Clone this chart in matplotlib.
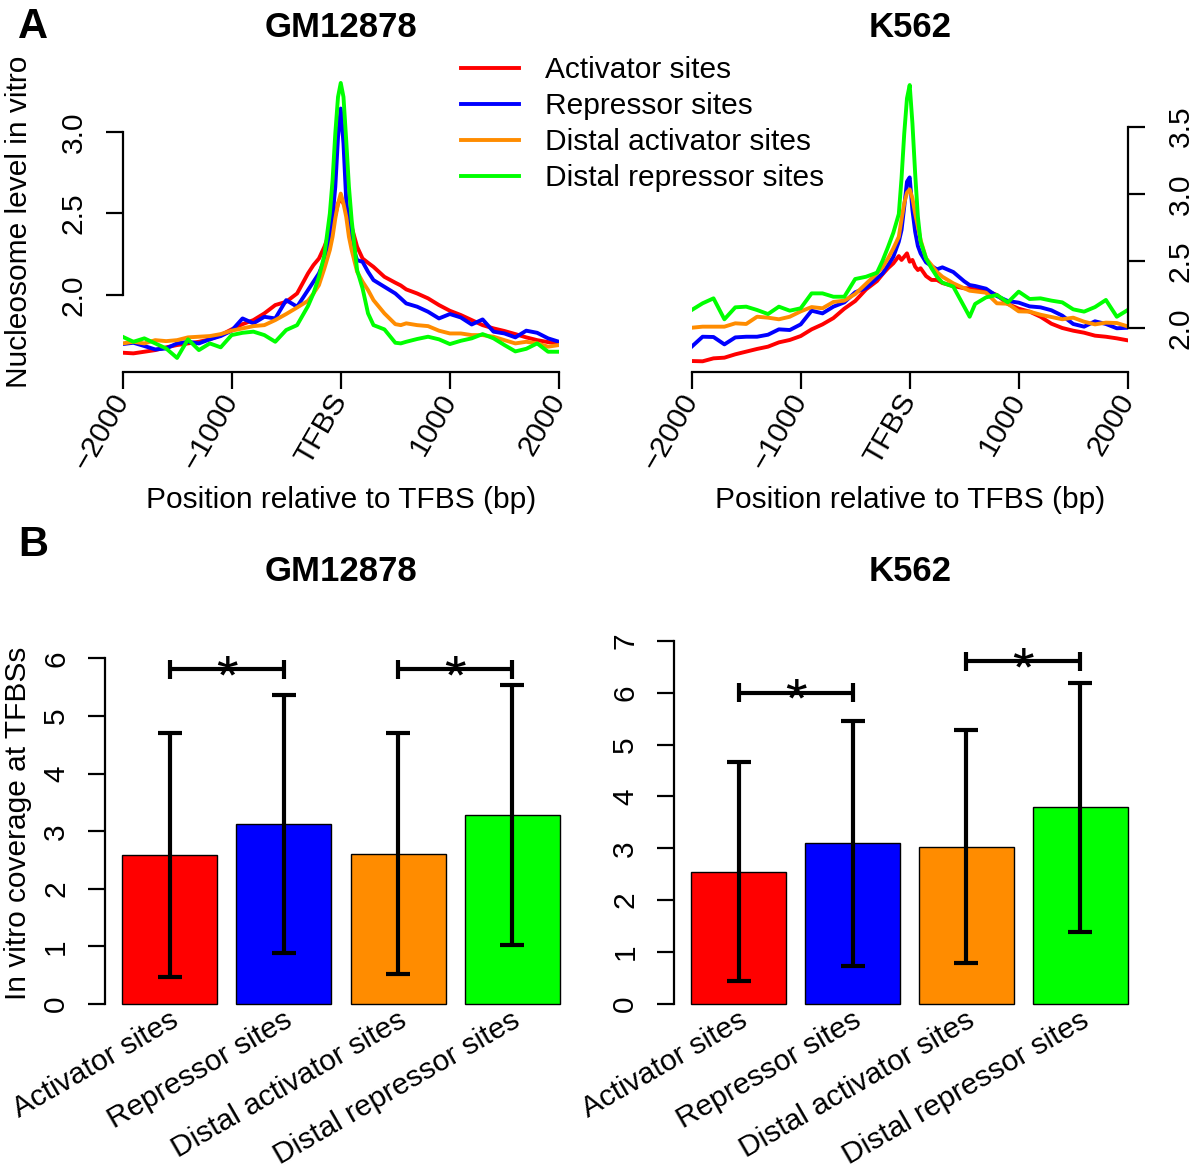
import matplotlib
matplotlib.use('Agg')
import matplotlib.pyplot as plt
from matplotlib.lines import Line2D
from matplotlib.transforms import ScaledTranslation

plt.rcParams['font.family'] = ['Liberation Sans', 'DejaVu Sans']

W, H = 1200, 1168
FS = 21.5

# position relative to TFBS (bp)
pos = [-2000, -1900, -1800, -1700, -1600, -1500, -1400, -1300, -1200, -1100,
       -1000, -900, -800, -700, -600, -500, -400, -300,
       -250, -200, -150, -100, -75, -50, -25, 0, 25, 50, 75, 100, 150, 200, 250,
       300, 400, 500, 550, 600, 700, 800, 900, 1000, 1100, 1200, 1300, 1400,
       1500, 1600, 1700, 1800, 1900, 2000]

# GM12878 in vitro nucleosome level
gm_act = [1.647, 1.643, 1.653, 1.663, 1.680, 1.694, 1.704, 1.714, 1.729, 1.755,
          1.790, 1.822, 1.847, 1.888, 1.939, 1.959, 2.010, 2.133,
          2.184, 2.224, 2.296, 2.388, 2.429, 2.490, 2.561, 2.592, 2.561, 2.531, 2.469, 2.418, 2.296, 2.224, 2.198,
          2.173, 2.112, 2.076, 2.059, 2.035, 2.010, 1.980, 1.939, 1.904, 1.878, 1.847, 1.816, 1.796,
          1.780, 1.761, 1.741, 1.724, 1.712, 1.704]
gm_rep = [1.700, 1.708, 1.688, 1.667, 1.673, 1.704, 1.714, 1.704, 1.729, 1.749,
          1.782, 1.857, 1.827, 1.867, 1.857, 1.969, 1.929, 2.031,
          2.082, 2.133, 2.214, 2.357, 2.480, 2.663, 2.969, 3.143, 2.929, 2.582, 2.418, 2.316, 2.214, 2.204, 2.143,
          2.092, 2.051, 2.010, 1.980, 1.949, 1.929, 1.898, 1.857, 1.884, 1.863, 1.820, 1.851, 1.776,
          1.765, 1.741, 1.782, 1.769, 1.735, 1.714]
gm_dact = [1.704, 1.714, 1.704, 1.724, 1.718, 1.724, 1.741, 1.745, 1.749, 1.761,
           1.782, 1.796, 1.810, 1.816, 1.847, 1.884, 1.924, 1.965,
           2.010, 2.061, 2.163, 2.276, 2.357, 2.469, 2.561, 2.622, 2.561, 2.480, 2.357, 2.276, 2.143, 2.082, 2.031,
           1.969, 1.888, 1.822, 1.816, 1.827, 1.816, 1.810, 1.782, 1.765, 1.765, 1.755, 1.755, 1.745,
           1.724, 1.704, 1.714, 1.704, 1.684, 1.694]
gm_drep = [1.745, 1.714, 1.735, 1.704, 1.673, 1.615, 1.729, 1.663, 1.704, 1.680,
           1.755, 1.769, 1.776, 1.755, 1.714, 1.786, 1.816, 1.933,
           2.010, 2.112, 2.245, 2.500, 2.704, 2.990, 3.214, 3.300, 3.214, 2.949, 2.663, 2.459, 2.153, 2.041, 1.888,
           1.816, 1.790, 1.708, 1.704, 1.714, 1.731, 1.745, 1.729, 1.700, 1.720, 1.735, 1.761, 1.735,
           1.694, 1.655, 1.671, 1.704, 1.653, 1.653]

# K562 in vitro nucleosome level
k_act = [1.754, 1.752, 1.774, 1.779, 1.804, 1.824, 1.844, 1.861, 1.893, 1.911,
         1.940, 1.990, 2.027, 2.074, 2.144, 2.201, 2.288, 2.350,
         2.400, 2.445, 2.482, 2.536, 2.507, 2.531, 2.556, 2.494, 2.507, 2.457, 2.432, 2.445, 2.387, 2.358, 2.358,
         2.335, 2.313, 2.296, 2.296, 2.288, 2.278, 2.246, 2.179, 2.144, 2.122, 2.084, 2.032, 2.000,
         1.980, 1.965, 1.943, 1.935, 1.923, 1.908]
k_rep = [1.861, 1.935, 1.933, 1.878, 1.930, 1.935, 1.935, 1.950, 1.990, 1.985,
         2.027, 2.129, 2.109, 2.159, 2.191, 2.266, 2.298, 2.372,
         2.405, 2.467, 2.531, 2.643, 2.730, 2.904, 3.090, 3.122, 2.879, 2.718, 2.611, 2.556, 2.489, 2.462, 2.437,
         2.452, 2.417, 2.348, 2.320, 2.313, 2.293, 2.238, 2.201, 2.189, 2.161, 2.154, 2.132, 2.092,
         2.030, 2.010, 2.050, 2.030, 1.998, 2.002]
k_dact = [2.002, 2.010, 2.010, 2.010, 2.035, 2.030, 2.084, 2.077, 2.065, 2.084,
          2.124, 2.156, 2.147, 2.194, 2.204, 2.253, 2.330, 2.407,
          2.452, 2.517, 2.593, 2.680, 2.810, 2.929, 3.008, 3.033, 2.966, 2.854, 2.755, 2.656, 2.519, 2.469, 2.417,
          2.382, 2.333, 2.296, 2.278, 2.273, 2.263, 2.184, 2.181, 2.124, 2.122, 2.099, 2.082, 2.065,
          2.077, 2.047, 2.027, 2.040, 2.037, 2.012]
k_drep = [2.134, 2.184, 2.221, 2.065, 2.154, 2.159, 2.134, 2.104, 2.159, 2.129,
          2.147, 2.258, 2.258, 2.233, 2.233, 2.365, 2.382, 2.412,
          2.499, 2.601, 2.710, 2.849, 3.115, 3.450, 3.711, 3.810, 3.525, 3.152, 2.829, 2.643, 2.519, 2.445, 2.382,
          2.338, 2.308, 2.159, 2.084, 2.179, 2.228, 2.246, 2.191, 2.271, 2.216, 2.221, 2.204, 2.191,
          2.139, 2.122, 2.156, 2.209, 2.084, 2.134]

names = ['Activator sites', 'Repressor sites', 'Distal activator sites', 'Distal repressor sites']
colors = ['#ff0000', '#0000ff', '#ff8c00', '#00ff00']

# in vitro coverage at TFBSs, mean and sd
gm_mean = [2.59, 3.13, 2.61, 3.28]
gm_sd = [2.12, 2.24, 2.09, 2.26]
k_mean = [2.55, 3.10, 3.03, 3.79]
k_sd = [2.11, 2.36, 2.25, 2.40]
# significance brackets: (bar i, bar j, height)
gm_sig = [(0, 1, 5.81), (2, 3, 5.81)]
k_sig = [(0, 1, 6.0), (2, 3, 6.6)]


def box(x0, y0, x1, y1):
    return [x0 / W, 1 - y1 / H, (x1 - x0) / W, (y1 - y0) / H]


def ftext(x, y, s, **kw):
    fig.text(x / W, 1 - y / H, s, **kw)


fig = plt.figure(figsize=(12, 11.68), dpi=100)

ax1 = fig.add_axes(box(122.5, 71.5, 559, 372.3))
ax2 = fig.add_axes(box(691.7, 71.5, 1127.7, 372.3))
ax3 = fig.add_axes(box(104.9, 627.9, 577.1, 1018.4))
ax4 = fig.add_axes(box(674.0, 626.2, 1145.1, 1018.5))

xt = [-2000, -1000, 0, 1000, 2000]
xtl = ['\u22122000', '\u22121000', 'TFBS', '1000', '2000']

for ax, series in [(ax1, [gm_act, gm_rep, gm_dact, gm_drep]),
                   (ax2, [k_act, k_rep, k_dact, k_drep])]:
    for vals, c in zip(series, colors):
        ax.plot(pos, vals, color=c, lw=2.8, solid_joinstyle='round')
    ax.set_xlim(-2000, 2000)
    ax.set_xticks(xt)
    ax.set_xticklabels(xtl, rotation=60, ha='right', va='center',
                       rotation_mode='anchor', fontsize=FS)
    ax.tick_params(axis='x', length=12, width=1.6, pad=5)
    ax.spines['top'].set_visible(False)
    ax.spines['bottom'].set_linewidth(1.6)
    ax.patch.set_visible(False)

ax1.set_ylim(1.527, 3.37)
ax1.spines['right'].set_visible(False)
ax1.spines['left'].set_bounds(2.0, 3.0)
ax1.spines['left'].set_linewidth(1.6)
ax1.set_yticks([2.0, 2.5, 3.0])
ax1.set_yticklabels(['2.0', '2.5', '3.0'], rotation=90, va='center', fontsize=FS)
ax1.tick_params(axis='y', length=12, width=1.6, pad=13)

ax2.set_ylim(1.67, 3.911)
ax2.spines['left'].set_visible(False)
ax2.spines['right'].set_bounds(2.0, 3.5)
ax2.spines['right'].set_linewidth(1.6)
ax2.yaxis.tick_right()
ax2.set_yticks([2.0, 2.5, 3.0, 3.5])
ax2.set_yticklabels(['2.0', '2.5', '3.0', '3.5'], rotation=90, va='center', fontsize=FS)
ax2.tick_params(axis='y', length=12, width=1.6, pad=16)

# bar panels
centers = [0.7 + 1.2 * i for i in range(4)]
for ax, mean, sd, sig, top, hh in [(ax3, gm_mean, gm_sd, gm_sig, 6, 0.165),
                                   (ax4, k_mean, k_sd, k_sig, 7, 0.183)]:
    ax.bar(centers, mean, width=1, color=colors, edgecolor='black', lw=1.0, zorder=2)
    ax.errorbar(centers, mean, yerr=sd, fmt='none', ecolor='black', elinewidth=3,
                capsize=8.3, capthick=3, zorder=3)
    for i, j, y in sig:
        x1, x2 = centers[i], centers[j]
        ax.plot([x1, x2], [y, y], color='black', lw=3, solid_capstyle='butt')
        ax.plot([x1, x1], [y - hh, y + hh], color='black', lw=3, solid_capstyle='butt')
        ax.plot([x2, x2], [y - hh, y + hh], color='black', lw=3, solid_capstyle='butt')
        ax.annotate('*', xy=((x1 + x2) / 2, y), xytext=(0, -17), textcoords='offset points',
                    ha='center', va='baseline', fontsize=40)
    ax.set_xlim(0.016, 4.984)
    ax.set_ylim(-0.04 * top if top == 7 else -0.25, top * 1.04 if top == 7 else 6.53)
    ax.spines['top'].set_visible(False)
    ax.spines['right'].set_visible(False)
    ax.spines['bottom'].set_visible(False)
    ax.spines['left'].set_bounds(0, top)
    ax.spines['left'].set_linewidth(1.6)
    ax.set_yticks(range(top + 1))
    ax.set_yticklabels([str(v) for v in range(top + 1)], rotation=90, va='center', fontsize=FS)
    ax.tick_params(axis='y', length=12, width=1.6, pad=13)
    ax.set_xticks(centers)
    ax.set_xticklabels(names, rotation=30, ha='right', va='center',
                       rotation_mode='anchor', fontsize=FS)
    ax.tick_params(axis='x', length=0, pad=0)
    for lab in ax.get_xticklabels():
        lab.set_transform(lab.get_transform() + ScaledTranslation(0.06, 0, fig.dpi_scale_trans))
    ax.patch.set_visible(False)

# legend drawn between the top panels
for k, (n, c) in enumerate(zip(names, colors)):
    yy = 67.7 + 36 * k
    fig.add_artist(Line2D([461 / W, 518.6 / W], [1 - yy / H, 1 - yy / H], color=c, lw=2.8))
    ftext(545, yy + 10, n, fontsize=FS, ha='left', va='baseline')

# titles, axis labels, panel letters
for x in (341, 910):
    pass
ftext(341, 37, 'GM12878', fontsize=25, fontweight='bold', ha='center', va='baseline')
ftext(910, 37, 'K562', fontsize=25, fontweight='bold', ha='center', va='baseline')
ftext(341, 581, 'GM12878', fontsize=25, fontweight='bold', ha='center', va='baseline')
ftext(910, 581, 'K562', fontsize=25, fontweight='bold', ha='center', va='baseline')
ftext(341, 508, 'Position relative to TFBS (bp)', fontsize=FS, ha='center', va='baseline')
ftext(910, 508, 'Position relative to TFBS (bp)', fontsize=FS, ha='center', va='baseline')
ftext(27, 222, 'Nucleosome level in vitro', fontsize=FS, rotation=90,
      rotation_mode='anchor', ha='center', va='baseline')
ftext(26, 823, 'In vitro coverage at TFBSs', fontsize=FS, rotation=90,
      rotation_mode='anchor', ha='center', va='baseline')
ftext(18, 38, 'A', fontsize=30, fontweight='bold', ha='left', va='baseline')
ftext(18, 556, 'B', fontsize=30, fontweight='bold', ha='left', va='baseline')

fig.savefig('out.png', dpi=100)
